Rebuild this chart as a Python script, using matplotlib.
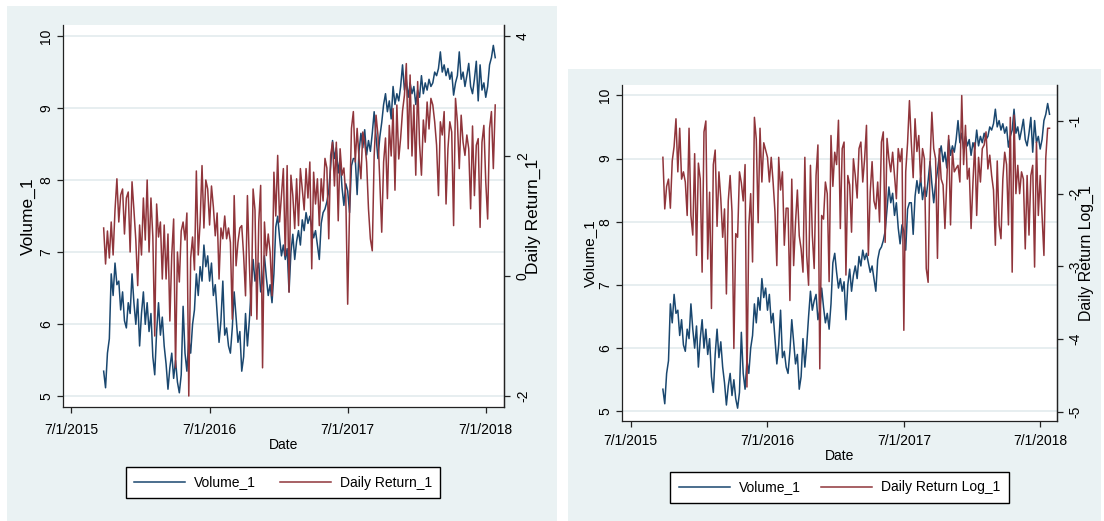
import numpy as np
import pandas as pd
import matplotlib
matplotlib.use("Agg")
import matplotlib.pyplot as plt
from matplotlib.patches import Rectangle

# series sampled every 5 days from 2015-09-25
volume = [
    5.35, 5.12, 5.6, 5.8, 6.7, 6.4, 6.85, 6.55, 6.6, 6.2,
    6.45, 6.05, 5.95, 6.3, 6.15, 6.7, 6.3, 6.0, 6.35, 5.7,
    6.15, 6.45, 6.0, 6.3, 5.9, 6.15, 5.55, 5.3, 5.9, 6.3,
    5.85, 6.1, 5.7, 5.45, 5.1, 5.4, 5.6, 5.25, 5.5, 5.2,
    5.05, 5.3, 6.25, 5.6, 5.35, 5.8, 5.6, 6.0, 6.2, 6.7,
    6.4, 6.8, 6.6, 7.1, 6.8, 6.95, 6.6, 6.85,
    6.4, 6.55, 6.15, 5.75, 6.05, 6.6, 5.85, 5.95, 5.7, 5.6,
    5.95, 6.45, 6.1, 5.75, 5.9, 5.35, 5.55, 6.15, 5.7, 6.05,
    6.5, 6.9, 6.6, 6.75, 6.85, 6.45, 6.6, 6.95, 6.65, 6.4,
    6.55, 6.3, 6.7, 7.35, 7.5, 7.2, 6.95, 7.1, 6.9, 7.05,
    6.45, 7.0, 7.25, 6.9, 7.15, 7.3, 7.1, 7.45, 7.3, 7.55,
    7.4, 7.5, 7.35, 7.2, 7.3, 7.1, 6.9, 7.4, 7.55, 7.6,
    7.7, 7.85, 8.2, 8.55, 8.3, 8.45, 8.1, 8.3, 7.9, 7.65,
    7.95, 7.85, 7.55, 8.2, 8.3,
    8.3, 7.8, 8.4, 8.65, 8.45, 8.7, 8.35, 8.55, 8.4, 8.65,
    8.95, 8.6, 8.3, 8.6, 8.8, 9.05, 9.2, 8.95, 9.1, 8.85,
    9.3, 9.05, 9.2, 9.1, 9.3, 9.6, 9.25, 9.4, 9.15, 9.35,
    9.2, 9.3, 9.05, 9.25, 9.15, 9.45, 9.2, 9.35, 9.25, 9.4,
    9.3, 9.35, 9.5, 9.45, 9.55, 9.78, 9.5, 9.6, 9.45, 9.55,
    9.4, 9.5, 9.18, 9.35, 9.45, 9.78, 9.4, 9.5, 9.3, 9.45,
    9.62, 9.3, 9.2, 9.4, 9.65, 9.1, 9.6, 9.25, 9.35, 9.15,
    9.3, 9.6, 9.7, 9.87, 9.7,
]

daily_return = [
    0.8, 0.2, 0.75, 0.3, 0.9, 0.35, 1.1, 1.62, 0.9, 1.35,
    1.45, 0.7, 1.3, 1.4, 0.4, 1.57, 1.1, 0.6, -0.16, 0.85,
    0.35, 1.3, 0.6, 1.6, 0.4, 1.3, 0.65, -1.0, 1.2, 0.65,
    0.9, -0.05, 0.85, -0.05, 0.7, -0.75, 0.35, 0.95, -1.53, 0.4,
    -0.1, 0.75, 0.9, 0.6, 1.05, -2.0, 0.3, 0.65, 0.1, 1.75,
    0.35, 0.9, 1.84, 0.8, 1.6, 1.45, 0.85, 1.5,
    1.15, 0.67, 1.05, -0.05, 0.8, 0.62, 1.0, 0.62, 0.8, 0.56,
    -0.72, 1.34, 0.17, 0.56, 0.8, 0.84, 0.34, -0.33, 1.34, 0.23,
    -0.66, 1.45, 1.1, -0.72, 0.9, 1.51, -1.53, 0.9, 0.34, 0.7,
    0.4, -0.33, 1.73, 1.0, 2.01, 0.9, 1.34, 1.79, 0.34, 1.84,
    -0.27, 1.68, 1.34, 0.79, 1.62, 0.84, 1.79, 1.45, 1.1, 1.79,
    1.3, 1.9, 0.12, 1.73, 1.2, 1.62, 0.84, 1.62, 1.25, 1.96,
    1.8, 0.62, 2.01, 2.23, 1.5, 2.23, 0.92, 2.12, 1.68, 1.8,
    1.34, -0.47, 1.1, 2.46, 2.74,
    1.9, 2.46, 1.96, 1.62, 2.4, 2.23, 1.9, 1.12, 0.62, 0.42,
    2.0, 2.68, 2.35, 1.57, 0.73, 1.9, 2.3, 1.29, 2.51, 2.0,
    2.79, 1.43, 2.85, 1.95, 2.3, 2.75, 3.01, 3.54, 2.12, 3.35,
    2.0, 2.85, 1.68, 3.24, 2.2, 1.68, 2.6, 2.23, 2.9, 2.45,
    2.96, 2.85, 2.57, 2.18, 1.34, 2.57, 2.35, 2.74, 1.2, 2.12,
    2.57, 2.4, 0.84, 2.96, 2.57, 1.79, 2.68, 2.23, 2.01, 2.35,
    2.12, 1.12, 2.5, 1.34, 2.18, 2.29, 0.81, 2.23, 2.51, 1.57,
    0.95, 2.46, 2.74, 1.79, 2.85,
]

daily_return_log = [
    -1.5, -2.21, -1.9, -1.8, -2.2, -1.55, -1.35, -0.97, -1.7, -1.1,
    -1.8, -1.7, -1.84, -2.3, -1.1, -2.3, -2.57, -1.45, -2.85, -1.58,
    -1.8, -3.08, -1.15, -1.0, -2.9, -1.98, -3.58, -1.6, -1.4, -2.45,
    -1.7, -2.07, -2.6, -2.21, -3.38, -2.1, -1.75, -2.25, -4.13, -2.55,
    -2.6, -1.7, -1.85, -2.1, -1.6, -4.66, -2.45, -2.0, -2.94, -0.95,
    -1.25, -2.4, -1.1, -1.84, -1.3, -1.4,
    -1.5, -1.84, -1.5, -1.84, -2.25, -2.99, -1.5, -1.95, -1.7, -2.71,
    -2.2, -2.2, -3.47, -1.8, -2.99, -2.4, -1.95, -2.58, -2.76, -3.08,
    -1.5, -2.85, -3.26, -1.61, -2.57, -3.03, -1.75, -1.33, -4.41, -2.3,
    -2.35, -1.84, -2.0, -3.21, -1.2, -1.9, -1.43, -1.6, -0.99, -2.48,
    -1.38, -1.29, -3.12, -1.75, -1.88, -2.53, -1.52, -1.75, -2.06, -1.38,
    -1.29, -1.84, -1.52, -1.06, -2.85, -1.98, -1.56, -2.1, -2.21, -1.84,
    -2.39, -1.29, -1.15, -2.67, -1.24, -1.52, -1.7, -1.43, -1.75, -2.07,
    -1.38, -1.56, -1.38, -3.88, -1.7, -1.3,
    -0.72, -1.3, -1.78, -0.97, -1.42, -1.2, -1.84, -1.38, -1.52, -3.03,
    -3.22, -1.6, -0.88, -1.38, -1.52, -2.89, -1.38, -1.8, -1.88, -2.48,
    -1.82, -1.2, -2.43, -1.4, -1.7, -1.65, -1.61, -1.84, -0.65, -1.6,
    -1.06, -1.8, -1.65, -2.48, -1.85, -1.3, -2.3, -1.5, -1.84, -1.38,
    -1.33, -1.15, -1.66, -1.47, -1.75, -1.95, -2.71, -1.55, -2.43, -2.62,
    -1.8, -1.43, -1.6, -2.43, -0.95, -3.08, -0.92, -2.0, -1.61, -2.0,
    -1.7, -1.8, -2.76, -1.75, -2.57, -1.75, -1.61, -3.01, -1.29, -2.3,
    -1.75, -2.3, -2.85, -1.5, -1.1, -1.1,
]

dates = pd.date_range("2015-09-25", periods=len(volume), freq="5D")
tick_dates = pd.to_datetime(["2015-07-01", "2016-07-01", "2017-07-01", "2018-07-01"])
tick_labels = ["7/1/2015", "7/1/2016", "7/1/2017", "7/1/2018"]
vol_ticks = [5, 6, 7, 8, 9, 10]
ret_ticks = [-2, 0, 2, 4]
logret_ticks = [-5, -4, -3, -2, -1]

NAVY = "#1A476F"
MAROON = "#90353B"
BG = "#EAF2F3"
GRID = "#E3EBEE"
AXC = "#222222"
FONT = ["Liberation Sans", "DejaVu Sans"]

W, H = 1104, 521
fig = plt.figure(figsize=(W / 100, H / 100), dpi=100)

# panel backgrounds
fig.patches.append(Rectangle((7 / W, 0), 550 / W, 515 / H, transform=fig.transFigure,
                             facecolor=BG, edgecolor="none", zorder=-5))
fig.patches.append(Rectangle((568 / W, 0), 533 / W, 452 / H, transform=fig.transFigure,
                             facecolor=BG, edgecolor="none", zorder=-5))


def px_axes(left, top, right, bottom):
    return fig.add_axes([left / W, 1 - bottom / H, (right - left) / W, (bottom - top) / H])


def panel(ax, ylim, y2, ylim2, yticks2, y2name, xlim, fs_lab, fs_lab2, ylab_x, y2lab_x, xpad):
    ax.set_facecolor("white")
    line1, = ax.plot(dates, volume, color=NAVY, lw=1.1, label="Volume_1")
    ax.set_ylim(*ylim)
    ax.set_yticks(vol_ticks)
    ax.set_yticklabels([str(t) for t in vol_ticks], rotation=90, va="center",
                       family=FONT, fontsize=10)
    ax.grid(axis="y", color=GRID, lw=1.2)
    ax.set_axisbelow(True)
    ax.set_xlim(pd.Timestamp(xlim[0]), pd.Timestamp(xlim[1]))
    ax.set_xticks(tick_dates)
    ax.set_xticklabels(tick_labels, family=FONT, fontsize=10)
    ax.set_xlabel("Date", family=FONT, fontsize=10, labelpad=0.7)
    ax.set_ylabel("Volume_1", family=FONT, fontsize=fs_lab)
    ax.yaxis.label.set_verticalalignment("center")
    ax.yaxis.set_label_coords(ylab_x, 0.5)
    ax.spines["top"].set_visible(False)
    for s in ["left", "bottom", "right"]:
        ax.spines[s].set_color(AXC)
        ax.spines[s].set_linewidth(0.9)
    ax.tick_params(axis="y", direction="out", length=4, width=0.9, color=AXC, pad=3)
    ax.tick_params(axis="x", direction="out", length=4, width=0.9, color=AXC, pad=xpad)

    ax2 = ax.twinx()
    line2, = ax2.plot(dates, y2, color=MAROON, lw=1.1, label=y2name)
    ax2.set_ylim(*ylim2)
    ax2.set_yticks(yticks2)
    ax2.set_yticklabels([str(t) for t in yticks2], rotation=90, va="center",
                        family=FONT, fontsize=10)
    ax2.set_ylabel(y2name, family=FONT, fontsize=fs_lab2)
    ax2.yaxis.label.set_verticalalignment("center")
    ax2.yaxis.set_label_coords(y2lab_x, 0.5)
    for s in ["top", "left", "bottom"]:
        ax2.spines[s].set_visible(False)
    ax2.spines["right"].set_color(AXC)
    ax2.spines["right"].set_linewidth(0.9)
    ax2.tick_params(direction="out", length=4, width=0.9, color=AXC, pad=4.4)
    return line1, line2


# left panel: volume and daily return
axL = px_axes(62.8, 25, 504.3, 407)
hL = panel(axL, (4.853, 10.153), daily_return, (-2.183, 4.183), ret_ticks,
           "Daily Return_1", ("2015-06-09", "2018-08-19"), 12.5, 12.5,
           -0.077, 1.065, 7.4)

# right panel: volume and log daily return
axR = px_axes(621.8, 85, 1057, 421)
hR = panel(axR, (4.847, 10.163), daily_return_log, (-5.128, -0.505), logret_ticks,
           "Daily Return Log_1", ("2015-06-07", "2018-08-15"), 11, 11.4,
           -0.074, 1.067, 5.3)

for handles, cx, cy, colsp in [(hL, 283, 482.5, 1.68), (hR, 839.4, 487.5, 1.47)]:
    leg = fig.legend(handles, [h.get_label() for h in handles], loc="center",
                     bbox_to_anchor=(cx / W, 1 - cy / H), ncol=2, frameon=True,
                     fancybox=False, edgecolor="black", framealpha=1,
                     prop={"family": FONT, "size": 10}, handlelength=3.67,
                     handletextpad=0.65, columnspacing=colsp, borderpad=0.6,
                     borderaxespad=0)
    leg.get_frame().set_linewidth(1.0)

fig.savefig("out.png", dpi=100)
